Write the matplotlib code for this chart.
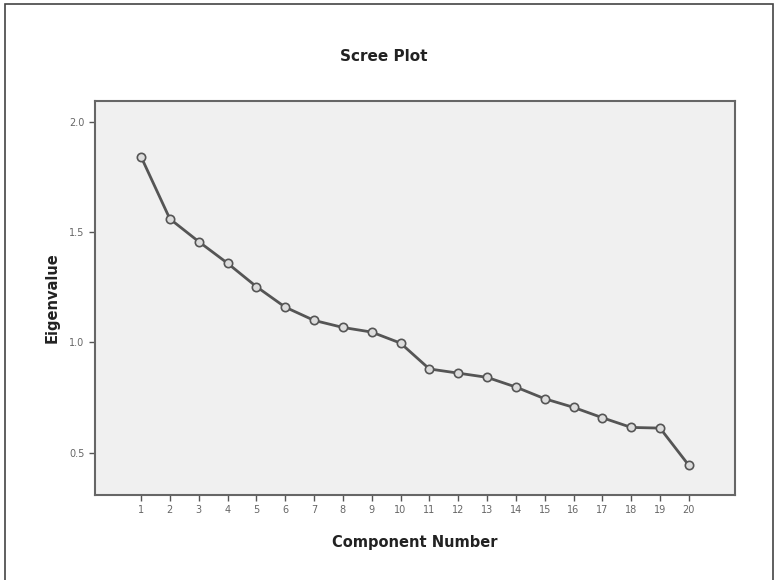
import numpy as np
import matplotlib.pyplot as plt
from matplotlib.patches import Rectangle

# eigenvalues
components = list(range(1, 21))
eigenvalues = [1.842, 1.560, 1.457, 1.359, 1.253, 1.160, 1.100, 1.068, 1.047, 0.997,
               0.880, 0.861, 0.842, 0.798, 0.745, 0.706, 0.659, 0.615, 0.612, 0.443]
y_ticks = [0.5, 1.0, 1.5, 2.0]

fig = plt.figure(figsize=(7.75, 5.8), dpi=100)
fig.patch.set_facecolor('white')

# outer frame around the whole chart
fig.patches.append(Rectangle((0.007, -0.05), 0.99, 1.043, transform=fig.transFigure,
                             fill=False, edgecolor='#444444', linewidth=1.2))

ax = fig.add_axes([0.1226, 0.1466, 0.8258, 0.6793])
ax.set_facecolor('#f0f0f0')
ax.plot(components, eigenvalues, color='#555555', linewidth=2,
        marker='o', markersize=6, markerfacecolor='#dddddd',
        markeredgecolor='#555555', markeredgewidth=1.2)

ax.set_xlim(-0.595, 21.6)
ax.set_ylim(0.309, 2.094)
ax.set_xticks(components)
ax.set_yticks(y_ticks)
ax.set_yticklabels([f'{v:.1f}' for v in y_ticks])
ax.tick_params(axis='both', labelsize=7, colors='#555555', length=4, width=1,
               direction='out', labelcolor='#666666')

for s in ax.spines.values():
    s.set_color('#666666')
    s.set_linewidth(1.5)

fig.text(0.495, 0.902, 'Scree Plot', ha='center', va='center',
         fontsize=11, fontweight='bold', color='#222222')
ax.set_xlabel('Component Number', fontsize=10.5, fontweight='bold', color='#222222', labelpad=14)
ax.set_ylabel('Eigenvalue', fontsize=10.5, fontweight='bold', color='#222222', labelpad=7)

fig.savefig('out.png', dpi=100)
